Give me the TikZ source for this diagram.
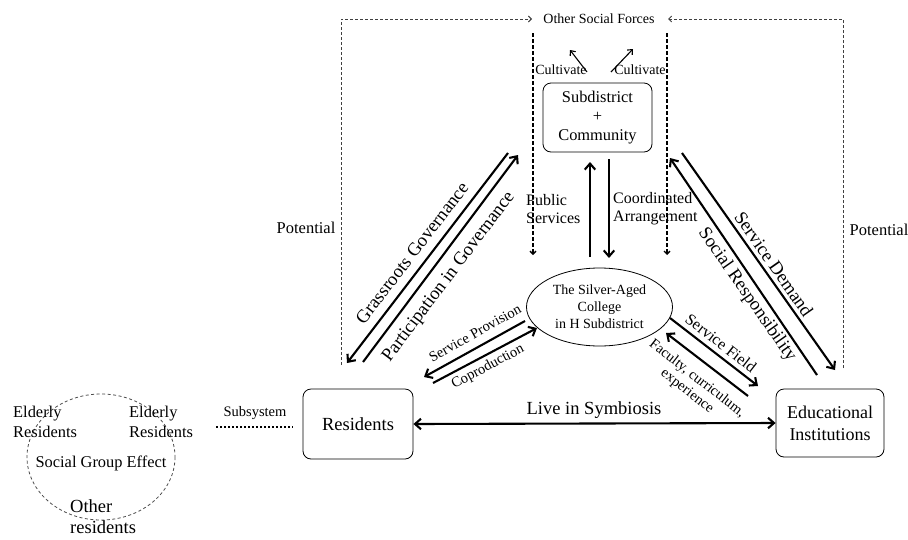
\documentclass[tikz,border=0pt]{standalone}
\usepackage{fontspec}
\setmainfont{Liberation Serif}
\usetikzlibrary{arrows.meta,shapes.geometric}
\newcommand{\fs}[2]{\fontsize{#1}{#2}\selectfont}
\begin{document}
\begin{tikzpicture}[x=1pt,y=-1pt,
  bighead/.tip={Straight Barb[length=6pt,width=10.5pt]},
  thickarr/.style={line width=2.1pt,-bighead},
  thinarr/.style={line width=1.1pt,-{Straight Barb[length=4pt,width=7pt]}},
  outerdash/.style={line width=0.9pt,black!75,dash pattern=on 3pt off 2pt,-{Straight Barb[length=3pt,width=6pt]}},
  innerdash/.style={line width=1.3pt,dash pattern=on 4pt off 2pt,-{Straight Barb[length=3pt,width=6pt]}},
  rbox/.style={draw,rounded corners=8pt,line width=0.8pt,align=center,inner sep=0pt},
  lbl/.style={inner sep=0pt}]
\useasboundingbox (0,0) rectangle (908,539);

% main nodes
\node[rbox,minimum width=109pt,minimum height=69pt,font=\fs{16.4}{19}] (sub) at (597.5,117.5) {Subdistrict\\+\\Community};
\node[draw,ellipse,line width=0.8pt,minimum width=146pt,minimum height=78pt,inner sep=0pt,align=center,font=\fs{14}{17}] (col) at (599.5,307) {The Silver-Aged\\College\\in H Subdistrict};
\node[rbox,minimum width=110pt,minimum height=70pt,font=\fs{18.5}{22}] (res) at (358,424) {Residents};
\node[rbox,minimum width=108pt,minimum height=68pt,font=\fs{18}{22}] (edu) at (830,423) {Educational\\Institutions};

% top labels
\node[lbl,font=\fs{14}{16}] (osf) at (599,19) {Other Social Forces};
\node[lbl,font=\fs{14}{16}] (cul1) at (561,70) {Cultivate};
\node[lbl,font=\fs{14}{16}] (cul2) at (640,70) {Cultivate};
\node[lbl,font=\fs{16.5}{18}] (potl) at (306,228) {Potential};
\node[lbl,font=\fs{16.5}{18}] (potr) at (879,230) {Potential};

% dashed outer frame
\coordinate (tlb) at (341,365);
\coordinate (tlc) at (341,19);
\coordinate (tla) at (532,19);
\coordinate (trb) at (843,368);
\coordinate (trc) at (843,19);
\coordinate (tra) at (668,19);
\draw[outerdash] (tlb) -- (tlc) -- (tla);
\draw[outerdash] (trb) -- (trc) -- (tra);

% inner dashed verticals
\coordinate (ila) at (533,33);
\coordinate (ilb) at (533,255);
\coordinate (ira) at (667,33);
\coordinate (irb) at (667,255);
\draw[innerdash] (ila) -- (ilb);
\draw[innerdash] (ira) -- (irb);

% cultivate arrows
\coordinate (c1a) at (587,72);
\coordinate (c1b) at (570,50);
\coordinate (c2a) at (611,72);
\coordinate (c2b) at (633,49);
\draw[thinarr] (c1a) -- (c1b);
\draw[thinarr] (c2a) -- (c2b);

% vertical arrows
\coordinate (pua) at (590,257);
\coordinate (pub) at (590,162);
\coordinate (coa) at (609,159);
\coordinate (cob) at (609,258);
\draw[thickarr] (pua) -- (pub);
\draw[thickarr] (coa) -- (cob);
\node[lbl,anchor=west,align=left,font=\fs{16}{18}] (pubs) at (526,209) {Public\\Services};
\node[lbl,anchor=west,align=left,font=\fs{16}{18}] (coor) at (613,209) {Coordinated\\Arrangement};

% left diagonals
\coordinate (gra) at (508,153);
\coordinate (grb) at (347,363);
\coordinate (paa) at (363,362);
\coordinate (pab) at (518,155);
\draw[thickarr] (gra) -- (grb);
\draw[thickarr] (paa) -- (pab);
\node[lbl,rotate=52.5,font=\fs{18.5}{20}] (grl) at (412,253) {Grassroots Governance};
\node[lbl,rotate=53,font=\fs{18.5}{20}] (pal) at (449,277) {Participation in Governance};

% service provision / coproduction
\coordinate (spa) at (525,321);
\coordinate (spb) at (424,377);
\coordinate (cpa) at (433,383);
\coordinate (cpb) at (537,328);
\draw[thickarr] (spa) -- (spb);
\draw[thickarr] (cpa) -- (cpb);
\node[lbl,rotate=29,font=\fs{14.5}{16}] (spl) at (475,333) {Service Provision};
\node[lbl,rotate=28,font=\fs{14.5}{16}] (cpl) at (488,367) {Coproduction};

% right diagonals
\coordinate (sda) at (682,153);
\coordinate (sdb) at (835,370);
\coordinate (sra) at (817,375);
\coordinate (srb) at (670,158);
\draw[thickarr] (sda) -- (sdb);
\draw[thickarr] (sra) -- (srb);
\node[lbl,rotate=-55,font=\fs{18.5}{20}] (sdl) at (774,264) {Service Demand};
\node[lbl,rotate=-55,font=\fs{18.5}{20}] (srl) at (747,295) {Social Responsibility};

% service field / faculty
\coordinate (sfa) at (670,318);
\coordinate (sfb) at (758,386);
\coordinate (fca) at (748,396);
\coordinate (fcb) at (666,333);
\draw[thickarr] (sfa) -- (sfb);
\draw[thickarr] (fca) -- (fcb);
\node[lbl,rotate=-38,font=\fs{16}{18}] (sfl) at (721,343) {Service Field};
\node[lbl,rotate=-38,align=center,font=\fs{14.5}{16}] (fcl) at (692,385) {Faculty, curriculum,\\experience};

% live in symbiosis
\draw[line width=2.1pt,bighead-bighead] (res.east) -- (edu.west);
\node[lbl,font=\fs{18.5}{20}] (lis) at (594,410) {Live in Symbiosis};

% subsystem
\coordinate (ssa) at (216,427);
\coordinate (ssb) at (293,427);
\draw[line width=1.8pt,dash pattern=on 1.6pt off 2.4pt] (ssa) -- (ssb);
\node[lbl,font=\fs{14.5}{16}] (ssl) at (255,413) {Subsystem};

% social group
\draw[line width=0.8pt,black!70,dash pattern=on 3pt off 2.5pt] (101,457) ellipse [x radius=74, y radius=63];
\node[lbl,anchor=west,align=left,font=\fs{16.4}{20}] (el1) at (13,422) {Elderly\\Residents};
\node[lbl,anchor=west,align=left,font=\fs{16.4}{20}] (el2) at (129,422) {Elderly\\Residents};
\node[lbl,font=\fs{16.4}{18}] (sge) at (101,463) {Social Group Effect};
\node[lbl,anchor=west,align=left,font=\fs{18.5}{21}] (oth) at (70,517) {Other\\residents};
\end{tikzpicture}
\end{document}
